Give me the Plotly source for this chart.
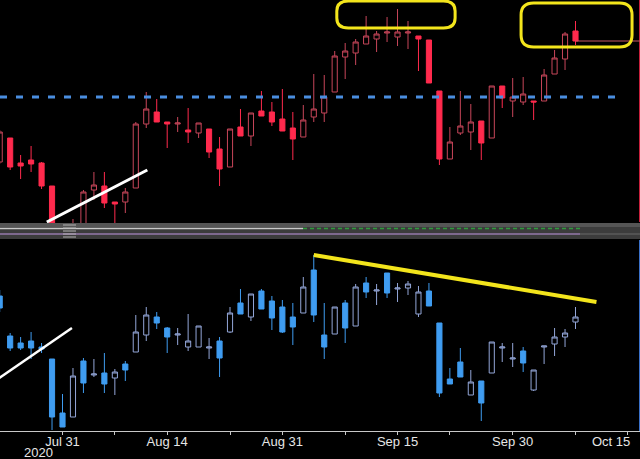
import plotly.graph_objects as go

# ---------------- data (trading-session index; 0 = Jul 31 2020) ----------------
session = list(range(-6, 50))

top_open = [68, 92, 67, 70, 67, 44, 2, -6, 0, 40, 44, 28, 28, 42, 106, 118, 108, 106, 100, 97,
            101, 81, 63, 103, 94, 119, 118, 111, 102, 93, 113, 117, 138, 173, 177, 186, 191, 197,
            193, 197, 194, 190, 139, 71, 97, 98, 109, 92, 144, 129, 128, 129, 129, 156, 171, 199]
top_high = [100, 92, 75, 84, 68, 44, 5, 11, 40, 58, 58, 28, 42, 108, 138, 131, 108, 113, 122, 107,
            101, 93, 101, 121, 117, 139, 128, 141, 118, 125, 156, 155, 179, 187, 191, 214, 199, 213,
            221, 209, 194, 190, 139, 103, 139, 126, 109, 144, 144, 152, 153, 129, 161, 180, 198, 209]
top_low = [66, 60, 51, 58, 41, -2, -15, -10, -2, 30, 22, 4, 17, 42, 102, 108, 82, 98, 87, 92,
           72, 44, 63, 94, 84, 114, 104, 99, 70, 93, 108, 108, 138, 151, 165, 186, 178, 188,
           184, 181, 159, 147, 65, 71, 95, 80, 70, 92, 122, 113, 125, 110, 129, 156, 160, 185]
top_close = [98, 63, 64, 66, 44, 2, -10, 4, 38, 45, 27, 26, 38, 106, 121, 108, 106, 107, 98, 107,
             78, 61, 101, 94, 117, 114, 108, 99, 91, 110, 121, 133, 174, 179, 188, 194, 196, 198,
             198, 198, 191, 147, 71, 88, 104, 108, 87, 144, 132, 133, 136, 128, 155, 172, 196, 189]

bot_open = [144, 104, 97, 99, 93, 81, 27, 23, 79, 65, 67, 62, 76, 88, 105, 123, 112, 105, 93, 93,
            92, 99, 108, 137, 123, 149, 139, 133, 123, 127, 170, 105, 106, 137, 114, 157, 149, 167,
            151, 152, 126, 149, 117, 61, 78, 45, 59, 67, 92, 81, 89, 50, 93, 96, 103, 118]
bot_high = [150, 107, 103, 108, 97, 81, 46, 72, 82, 81, 87, 71, 79, 125, 133, 128, 113, 112, 126, 114,
            102, 103, 133, 151, 146, 151, 144, 140, 137, 163, 185, 137, 133, 140, 156, 163, 156, 167,
            157, 159, 154, 157, 117, 72, 92, 70, 59, 98, 97, 97, 93, 70, 94, 112, 111, 133]
bot_low = [128, 89, 90, 81, 87, 10, 13, 23, 47, 63, 47, 45, 59, 88, 99, 111, 87, 95, 89, 93,
           81, 63, 107, 126, 119, 131, 110, 107, 95, 127, 118, 81, 106, 97, 114, 142, 135, 142,
           138, 145, 123, 134, 43, 56, 63, 45, 19, 67, 78, 73, 68, 49, 76, 84, 93, 111]
bot_close = [132, 92, 92, 92, 91, 23, 13, 64, 57, 66, 56, 68, 70, 108, 125, 117, 103, 106, 99, 114,
             93, 82, 127, 126, 146, 131, 122, 108, 113, 153, 125, 93, 133, 112, 153, 148, 150, 147,
             152, 156, 148, 134, 47, 56, 63, 58, 37, 98, 93, 82, 77, 70, 94, 103, 107, 123]

tick_sessions = [0, 5, 10, 16, 21, 27, 32, 37, 43, 49, 54]
tick_labels = ["Jul 31", "", "Aug 14", "", "Aug 31", "", "Sep 15", "", "Sep 30", "", ""]
last_label = "Oct 15"
year_label = "2020"

resistance_level = 133      # blue dashed level on upper panel
last_close = top_close[-1]

# ---------------- styling ----------------
RED = "#ff2a4d"
RED_HOLLOW = "#c8465a"
BLUE = "#3f9cf0"
BLUE_HOLLOW = "#93a6d8"
YELLOW = "#f3e51c"
W, H = 640, 459


def py(px):
    return 1 - px / H


fig = go.Figure()
fig.add_trace(go.Candlestick(
    x=session, open=top_open, high=top_high, low=top_low, close=top_close,
    xaxis="x", yaxis="y",
    increasing=dict(line=dict(color=RED_HOLLOW, width=1), fillcolor="black"),
    decreasing=dict(line=dict(color=RED, width=1), fillcolor=RED),
    whiskerwidth=0, hoverinfo="skip", showlegend=False))
fig.add_trace(go.Candlestick(
    x=session, open=bot_open, high=bot_high, low=bot_low, close=bot_close,
    xaxis="x", yaxis="y2",
    increasing=dict(line=dict(color=BLUE_HOLLOW, width=1), fillcolor="black"),
    decreasing=dict(line=dict(color=BLUE, width=1), fillcolor=BLUE),
    whiskerwidth=0, hoverinfo="skip", showlegend=False))

x0 = -5.97
x1 = 55.16


def rounded(xa, xb, ya, yb, rx, ry, yref):
    p = (f"M {xa+rx},{yb} L {xb-rx},{yb} Q {xb},{yb} {xb},{yb-ry} L {xb},{ya+ry} "
         f"Q {xb},{ya} {xb-rx},{ya} L {xa+rx},{ya} Q {xa},{ya} {xa},{ya+ry} "
         f"L {xa},{yb-ry} Q {xa},{yb} {xa+rx},{yb} Z")
    return dict(type="path", path=p, xref="x", yref=yref,
                line=dict(color=YELLOW, width=3), fillcolor="rgba(0,0,0,0)")


shapes = []
# separator bands between panels
shapes.append(dict(type="rect", xref="paper", yref="paper", x0=0, x1=1, y0=py(239), y1=py(223),
                   fillcolor="#3c3c3c", line=dict(width=0), layer="above"))
shapes.append(dict(type="rect", xref="paper", yref="paper", x0=0, x1=1, y0=py(227), y1=py(223),
                   fillcolor="#555555", line=dict(width=0), layer="above"))
shapes.append(dict(type="line", xref="paper", yref="paper", x0=0, x1=303 / W, y0=py(228.5), y1=py(228.5),
                   line=dict(color="#c8c8c8", width=1.5), layer="above"))
shapes.append(dict(type="line", xref="paper", yref="paper", x0=303 / W, x1=582 / W, y0=py(228.5), y1=py(228.5),
                   line=dict(color="#2f9a3c", width=1.5, dash="4px,3px"), layer="above"))
shapes.append(dict(type="line", xref="paper", yref="paper", x0=0, x1=580 / W, y0=py(234), y1=py(234),
                   line=dict(color="#9478aa", width=1.5), layer="above"))
shapes.append(dict(type="line", xref="paper", yref="paper", x0=580 / W, x1=1, y0=py(234), y1=py(234),
                   line=dict(color="#5a5a5a", width=1.5), layer="above"))
for yy in [225, 228, 231, 234, 237]:
    shapes.append(dict(type="line", xref="paper", yref="paper", x0=63 / W, x1=76 / W, y0=py(yy), y1=py(yy),
                       line=dict(color="#b4b4b4", width=1), layer="above"))
# right-edge markers
shapes.append(dict(type="line", xref="paper", yref="paper", x0=639.5 / W, x1=639.5 / W, y0=py(222), y1=1,
                   line=dict(color="#c8203c", width=1)))
shapes.append(dict(type="line", xref="paper", yref="paper", x0=639.5 / W, x1=639.5 / W, y0=py(431), y1=py(240),
                   line=dict(color="#3a70c8", width=1)))

# upper panel drawings
shapes.append(dict(type="line", xref="x", yref="y", x0=x0, x1=53.1, y0=resistance_level, y1=resistance_level,
                   line=dict(color="#4a8ee0", width=3, dash="7px,9px")))
shapes.append(dict(type="line", xref="x", yref="y", x0=49, x1=x1, y0=last_close, y1=last_close,
                   line=dict(color="#c85a64", width=1)))
shapes.append(dict(type="line", xref="x", yref="y", x0=-1.5, x1=8.1, y0=8, y1=60,
                   line=dict(color="white", width=3)))
shapes.append(rounded(26.2, 37.5, 202, 229, 1.1, 10, "y"))
shapes.append(rounded(43.8, 54.4, 183, 227, 1.2, 12, "y"))

# lower panel drawings
shapes.append(dict(type="line", xref="x", yref="y2", x0=24, x1=51, y0=185, y1=138,
                   line=dict(color=YELLOW, width=4)))
shapes.append(dict(type="line", xref="x", yref="y2", x0=x0 - 0.5, x1=0.9, y0=59, y1=112,
                   line=dict(color="white", width=2.5)))

annotations = [
    dict(text=last_label, x=54, xref="x", xanchor="right", xshift=4, y=py(441), yref="paper",
         yanchor="middle", showarrow=False, font=dict(color="#e6e6e6", size=13, family="Liberation Sans")),
    dict(text=year_label, x=38 / W, xref="paper", xanchor="center", y=py(452), yref="paper",
         yanchor="middle", showarrow=False, font=dict(color="#e6e6e6", size=13, family="Liberation Sans")),
]

fig.update_layout(
    width=W, height=H,
    margin=dict(l=0, r=0, t=0, b=0),
    paper_bgcolor="black", plot_bgcolor="black",
    showlegend=False,
    shapes=shapes, annotations=annotations,
    xaxis=dict(range=[x0, x1], anchor="y2", domain=[0, 1],
               rangeslider=dict(visible=False),
               showgrid=False, zeroline=False,
               showline=True, linecolor="#c8c8c8", linewidth=1,
               ticks="outside", ticklen=3, tickcolor="#c8c8c8",
               ticklabelstandoff=-5,
               tickmode="array", tickvals=tick_sessions, ticktext=tick_labels,
               tickfont=dict(color="#e6e6e6", size=13, family="Liberation Sans")),
    yaxis=dict(domain=[py(223), 1], range=[7, 230], anchor="x",
               showgrid=False, zeroline=False, showticklabels=False, ticks=""),
    yaxis2=dict(domain=[py(431), py(240)], range=[9, 200], anchor="x",
                showgrid=False, zeroline=False, showticklabels=False, ticks=""),
)

fig.write_html(
    "out.html",
    config={"displayModeBar": False, "staticPlot": True},
    post_script="document.body.style.margin='0';document.body.style.padding='0';"
                "document.body.style.background='black';document.body.style.overflow='hidden';",
)
